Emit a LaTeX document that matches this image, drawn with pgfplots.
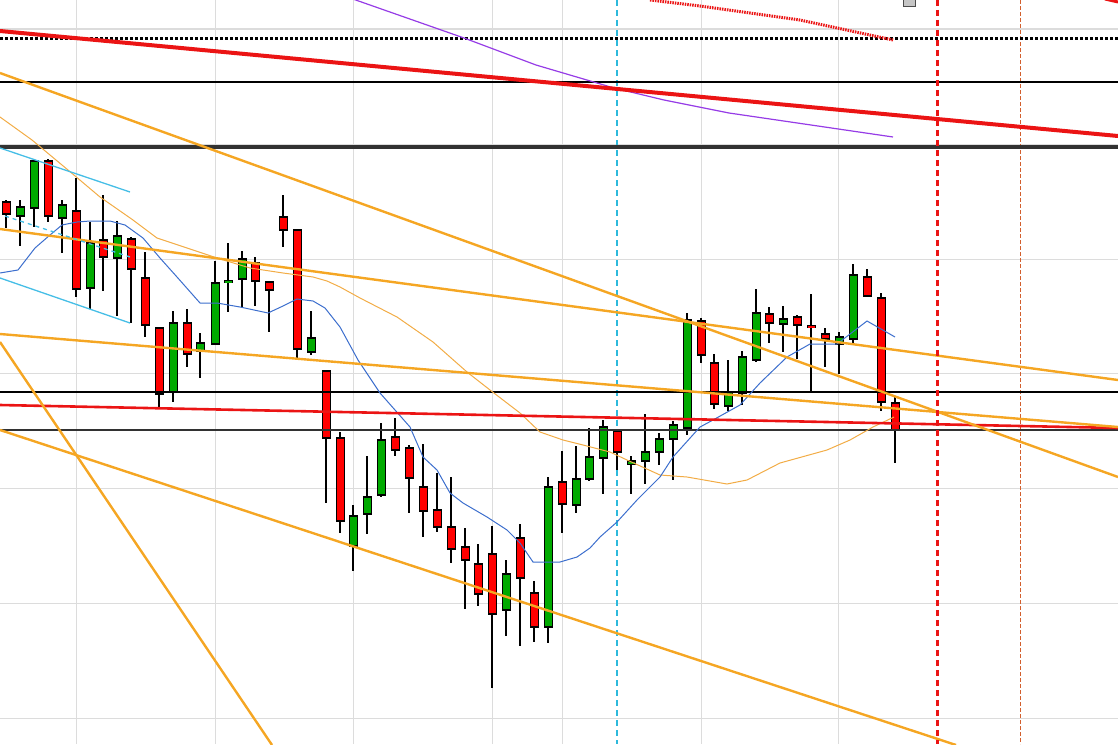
\documentclass[border=0pt]{standalone}
\usepackage{pgfplots}
\pgfplotsset{compat=1.18}
\usepackage{pgfplotstable}
\definecolor{cred}{RGB}{255,0,0}
\definecolor{cgreen}{RGB}{0,170,0}
\definecolor{gridc}{RGB}{220,220,220}
\definecolor{corange}{RGB}{245,166,35}
\definecolor{cmaorange}{RGB}{242,172,70}
\definecolor{cblue}{RGB}{60,110,205}
\definecolor{cpurple}{RGB}{150,60,230}
\definecolor{ccyan}{RGB}{70,190,230}
\definecolor{cvcyan}{RGB}{45,185,220}
\definecolor{ctrendred}{RGB}{235,20,20}
\definecolor{cdkgray}{RGB}{50,50,50}
\definecolor{csienna}{RGB}{210,95,45}

\pgfplotstableread{
x o c h l
6 202 214 200 228
48 161 216 159 222
76 211 289 178 297
103 240 257 195 291
131 239 269 237 323
145 278 325 252 337
159 328 394 328 408
187 323 354 309 367
255 263 281 257 306
269 282 290 282 332
283 217 230 195 247
297 230 349 230 358
326 371 438 371 503
340 438 521 432 533
395 437 450 418 456
409 448 478 445 513
423 487 511 444 537
437 510 527 473 532
451 527 549 477 563
465 547 560 528 609
478 564 594 544 606
492 554 614 526 688
520 538 578 524 646
534 593 627 581 642
562 482 504 451 533
617 431 452 430 470
701 321 355 318 363
714 363 404 354 409
769 314 323 307 343
797 317 325 315 359
811 326 327 294 392
825 334 339 328 367
867 277 296 269 297
881 298 402 293 411
895 403 430 397 463
}\redtab

\pgfplotstableread{
x o c h l
20 216 207 200 246
34 208 161 159 227
62 218 205 200 253
90 288 243 222 309
117 258 236 221 316
173 392 323 311 402
200 351 343 333 378
215 344 283 261 344
228 282 281 243 312
242 279 259 251 307
311 352 338 311 355
353 546 516 505 571
367 514 497 456 534
381 495 440 423 497
506 610 574 560 636
548 627 487 477 643
576 505 479 446 513
589 479 457 428 481
603 458 427 420 494
631 464 461 456 494
645 461 452 414 484
659 452 439 433 465
673 439 425 421 480
687 428 320 313 435
728 406 392 360 411
742 393 357 351 405
756 360 313 289 362
783 324 319 306 352
839 344 337 332 374
853 339 275 264 343
}\greentab

\pgfplotsset{
  wick/.style={draw=none, mark=none, forget plot,
    error bars/.cd, y dir=both, y explicit, error mark=none,
    error bar style={draw=black, line width=1.2pt, line cap=butt}},
  bodyout/.style={draw=none, mark=none, forget plot,
    error bars/.cd, y dir=both, y explicit, error mark=none,
    error bar style={draw=black, line width=9pt, line cap=butt}},
  bodyin/.style={draw=none, mark=none, forget plot,
    error bars/.cd, y dir=both, y explicit, error mark=none,
    error bar style={draw=#1, line width=7pt, line cap=butt}},
}

\begin{document}
\begin{tikzpicture}
\useasboundingbox (0,0) rectangle (1118pt,744pt);
\begin{axis}[at={(0,0)}, anchor=south west, scale only axis,
  width=1118pt, height=744pt,
  xmin=0, xmax=1118, ymin=0, ymax=744, y dir=reverse,
  hide axis, clip=true]

% grid
\addplot[gridc, line width=1pt, forget plot] coordinates {(76,0)(76,744)};
\addplot[gridc, line width=1pt, forget plot] coordinates {(215,0)(215,744)};
\addplot[gridc, line width=1pt, forget plot] coordinates {(353,0)(353,744)};
\addplot[gridc, line width=1pt, forget plot] coordinates {(492,0)(492,744)};
\addplot[gridc, line width=1pt, forget plot] coordinates {(562,0)(562,744)};
\addplot[gridc, line width=1pt, forget plot] coordinates {(701,0)(701,744)};
\addplot[gridc, line width=1pt, forget plot] coordinates {(838,0)(838,744)};
\addplot[gridc, line width=1pt, forget plot] coordinates {(0,29)(1118,29)};
\addplot[gridc, line width=1pt, forget plot] coordinates {(0,144)(1118,144)};
\addplot[gridc, line width=1pt, forget plot] coordinates {(0,259)(1118,259)};
\addplot[gridc, line width=1pt, forget plot] coordinates {(0,373)(1118,373)};
\addplot[gridc, line width=1pt, forget plot] coordinates {(0,488)(1118,488)};
\addplot[gridc, line width=1pt, forget plot] coordinates {(0,603)(1118,603)};
\addplot[gridc, line width=1pt, forget plot] coordinates {(0,718)(1118,718)};

% vertical markers
\addplot[cvcyan, line width=1.3pt, dash pattern=on 6pt off 4pt, forget plot] coordinates {(617,0)(617,744)};
\addplot[csienna, line width=1pt, dash pattern=on 4pt off 2pt, forget plot] coordinates {(1020,0)(1020,744)};

% candles: wicks
\addplot[wick] table[x=x, y expr={(\thisrow{h}+\thisrow{l})/2}, y error expr={(\thisrow{l}-\thisrow{h})/2}] {\redtab};
\addplot[wick] table[x=x, y expr={(\thisrow{h}+\thisrow{l})/2}, y error expr={(\thisrow{l}-\thisrow{h})/2}] {\greentab};
% bodies
\addplot[bodyout] table[x=x, y expr={(\thisrow{o}+\thisrow{c})/2}, y error expr={abs(\thisrow{o}-\thisrow{c})/2+0.6}] {\redtab};
\addplot[bodyout] table[x=x, y expr={(\thisrow{o}+\thisrow{c})/2}, y error expr={abs(\thisrow{o}-\thisrow{c})/2+0.6}] {\greentab};
\addplot[bodyin=cred] table[x=x, y expr={(\thisrow{o}+\thisrow{c})/2}, y error expr={max(abs(\thisrow{o}-\thisrow{c})/2-0.6,0.2)}] {\redtab};
\addplot[bodyin=cgreen] table[x=x, y expr={(\thisrow{o}+\thisrow{c})/2}, y error expr={max(abs(\thisrow{o}-\thisrow{c})/2-0.6,0.2)}] {\greentab};

% horizontal levels
\addplot[black, line width=3pt, dash pattern=on 2.5pt off 2.5pt, forget plot] coordinates {(0,38)(1118,38)};
\addplot[black, line width=1.3pt, forget plot] coordinates {(0,82)(1118,82)};
\addplot[cdkgray, line width=3.5pt, forget plot] coordinates {(0,147)(1118,147)};
\addplot[black, line width=1.3pt, forget plot] coordinates {(0,392)(1118,392)};
\addplot[cdkgray, line width=1.3pt, forget plot] coordinates {(0,430)(1118,430)};

% moving averages
\addplot[cmaorange, line width=1pt, forget plot] coordinates {(0,117)(32,140)(68,170)(100,197)(133,220)(157,238)(187,248)(217,258)(250,268)(283,273)(313,277)(327,281)(340,287)(360,298)(397,317)(433,342)(467,372)(490,390)(520,413)(540,432)(563,440)(583,445)(610,452)(627,460)(660,475)(687,477)(727,484)(747,480)(780,463)(827,450)(850,440)(873,427)(894,417)};
\addplot[cblue, line width=1pt, forget plot] coordinates {(0,273)(18,270)(35,248)(50,235)(62,225)(77,222)(90,221)(110,221)(125,225)(143,238)(160,258)(177,277)(200,303)(217,303)(240,307)(268,313)(283,306)(297,299)(313,301)(325,308)(340,327)(358,360)(380,393)(410,427)(423,457)(437,470)(450,493)(463,503)(487,517)(507,530)(520,543)(533,562)(560,562)(577,557)(590,548)(600,537)(617,522)(637,500)(660,477)(673,457)(700,427)(713,420)(740,405)(760,383)(787,357)(810,344)(837,344)(867,321)(895,337)};
\addplot[cpurple, line width=1.2pt, forget plot] coordinates {(350,-2)(464,38)(536,65)(614,88)(664,100)(729,113)(893,137)};

% trend lines
\addplot[ctrendred, line width=4pt, forget plot] coordinates {(0,31)(1118,136)};
\addplot[ctrendred, line width=2.6pt, forget plot] coordinates {(0,405)(1118,428)};
\addplot[corange, line width=2.4pt, forget plot] coordinates {(0,73)(1118,477)};
\addplot[corange, line width=2.4pt, forget plot] coordinates {(0,229)(1118,380)};
\addplot[corange, line width=2.4pt, forget plot] coordinates {(0,334)(1118,427)};
\addplot[corange, line width=2.4pt, forget plot] coordinates {(0,430)(956,745)};
\addplot[corange, line width=2.4pt, forget plot] coordinates {(0,342)(272,745)};
\addplot[ccyan, line width=1.3pt, forget plot] coordinates {(0,148)(130,192)};
\addplot[ccyan, line width=1.3pt, forget plot] coordinates {(0,278)(130,323)};
\addplot[ccyan, line width=1.3pt, dash pattern=on 4pt off 4pt, forget plot] coordinates {(5,216)(130,257)};
\addplot[ctrendred, line width=3pt, dash pattern=on 1.5pt off 1pt, forget plot] coordinates {(650,0)(700,6)(800,20)(893,40)};
\addplot[ctrendred, line width=3pt, forget plot] coordinates {(1105,-1)(1118,2)};

% red dashed vertical
\addplot[ctrendred, line width=3pt, dash pattern=on 6pt off 4pt, forget plot] coordinates {(937,0)(937,744)};

% small grey box at top
\addplot[fill=gray!45, draw=black!70, line width=1pt, forget plot] coordinates {(903,-2)(915,-2)(915,7)(903,7)} --cycle;
\end{axis}
\end{tikzpicture}
\end{document}
